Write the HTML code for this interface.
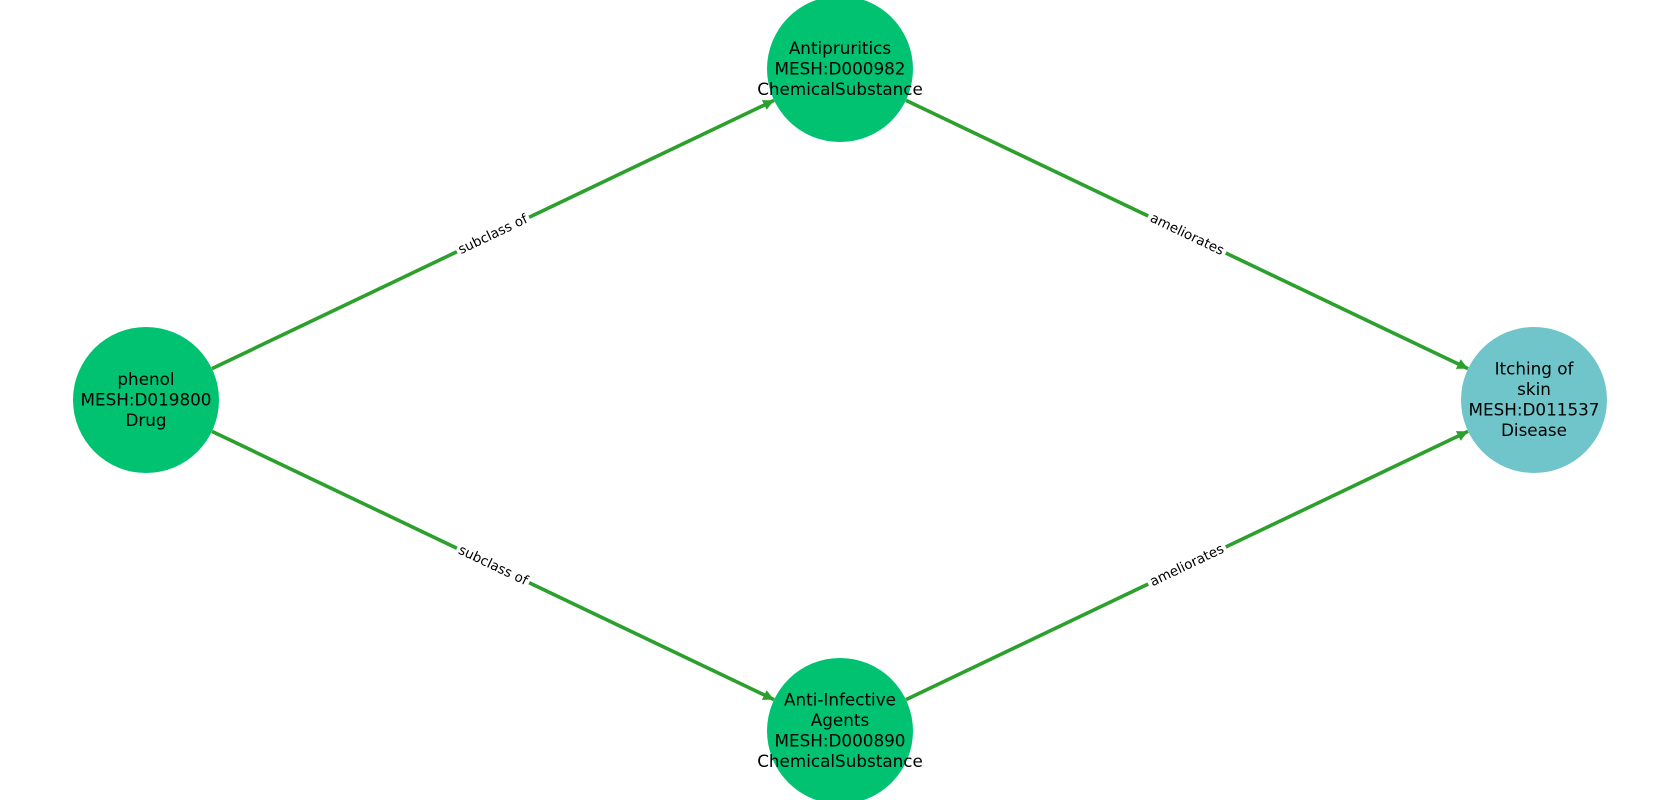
<!DOCTYPE html>
<html><head><meta charset="utf-8"><style>
html,body{margin:0;padding:0;background:#fff;}
svg{display:block;}
text{font-family:"DejaVu Sans","Liberation Sans",sans-serif;}
</style></head><body>
<svg width="1680" height="800" viewBox="0 0 1680 800" xmlns="http://www.w3.org/2000/svg">
<defs>
<marker id="ah" viewBox="0 0 10 10" refX="10" refY="5" markerWidth="3" markerHeight="3" orient="auto" markerUnits="strokeWidth">
<path d="M0,0 L10,5 L0,10 z" fill="#2ca02c"/>
</marker>
</defs>
<g stroke="#2ca02c" stroke-width="3.6" fill="none">
<line x1="212" y1="368.6" x2="774" y2="100.4" marker-end="url(#ah)"/>
<line x1="212" y1="431.4" x2="774" y2="699.6" marker-end="url(#ah)"/>
<line x1="906" y1="100.4" x2="1468" y2="368.6" marker-end="url(#ah)"/>
<line x1="906" y1="699.6" x2="1468" y2="431.4" marker-end="url(#ah)"/>
</g>
<g font-size="13.5" text-anchor="middle" dominant-baseline="central">
<g transform="translate(493,234.5) rotate(-25.5)"><rect x="-40" y="-9" width="80" height="18" fill="#fff"/><text x="0" y="0">subclass of</text></g>
<g transform="translate(493,565.5) rotate(25.5)"><rect x="-40" y="-9" width="80" height="18" fill="#fff"/><text x="0" y="0">subclass of</text></g>
<g transform="translate(1187,234.5) rotate(25.5)"><rect x="-43" y="-9" width="86" height="18" fill="#fff"/><text x="0" y="0">ameliorates</text></g>
<g transform="translate(1187,565.5) rotate(-25.5)"><rect x="-43" y="-9" width="86" height="18" fill="#fff"/><text x="0" y="0">ameliorates</text></g>
</g>
<circle cx="146" cy="400" r="73" fill="#00c271"/>
<circle cx="840" cy="69" r="73" fill="#00c271"/>
<circle cx="840" cy="731" r="73" fill="#00c271"/>
<circle cx="1534" cy="400" r="73" fill="#70c5ca"/>
<g font-size="16.8" text-anchor="middle" fill="#000">
<text x="146" y="385">phenol</text>
<text x="146" y="405.5">MESH:D019800</text>
<text x="146" y="426">Drug</text>
<text x="840" y="54">Antipruritics</text>
<text x="840" y="74.5">MESH:D000982</text>
<text x="840" y="95">ChemicalSubstance</text>
<text x="840" y="705.5">Anti-Infective</text>
<text x="840" y="726">Agents</text>
<text x="840" y="746.5">MESH:D000890</text>
<text x="840" y="767">ChemicalSubstance</text>
<text x="1534" y="374.5">Itching of</text>
<text x="1534" y="395">skin</text>
<text x="1534" y="415.5">MESH:D011537</text>
<text x="1534" y="436">Disease</text>
</g>
</svg>
</body></html>
